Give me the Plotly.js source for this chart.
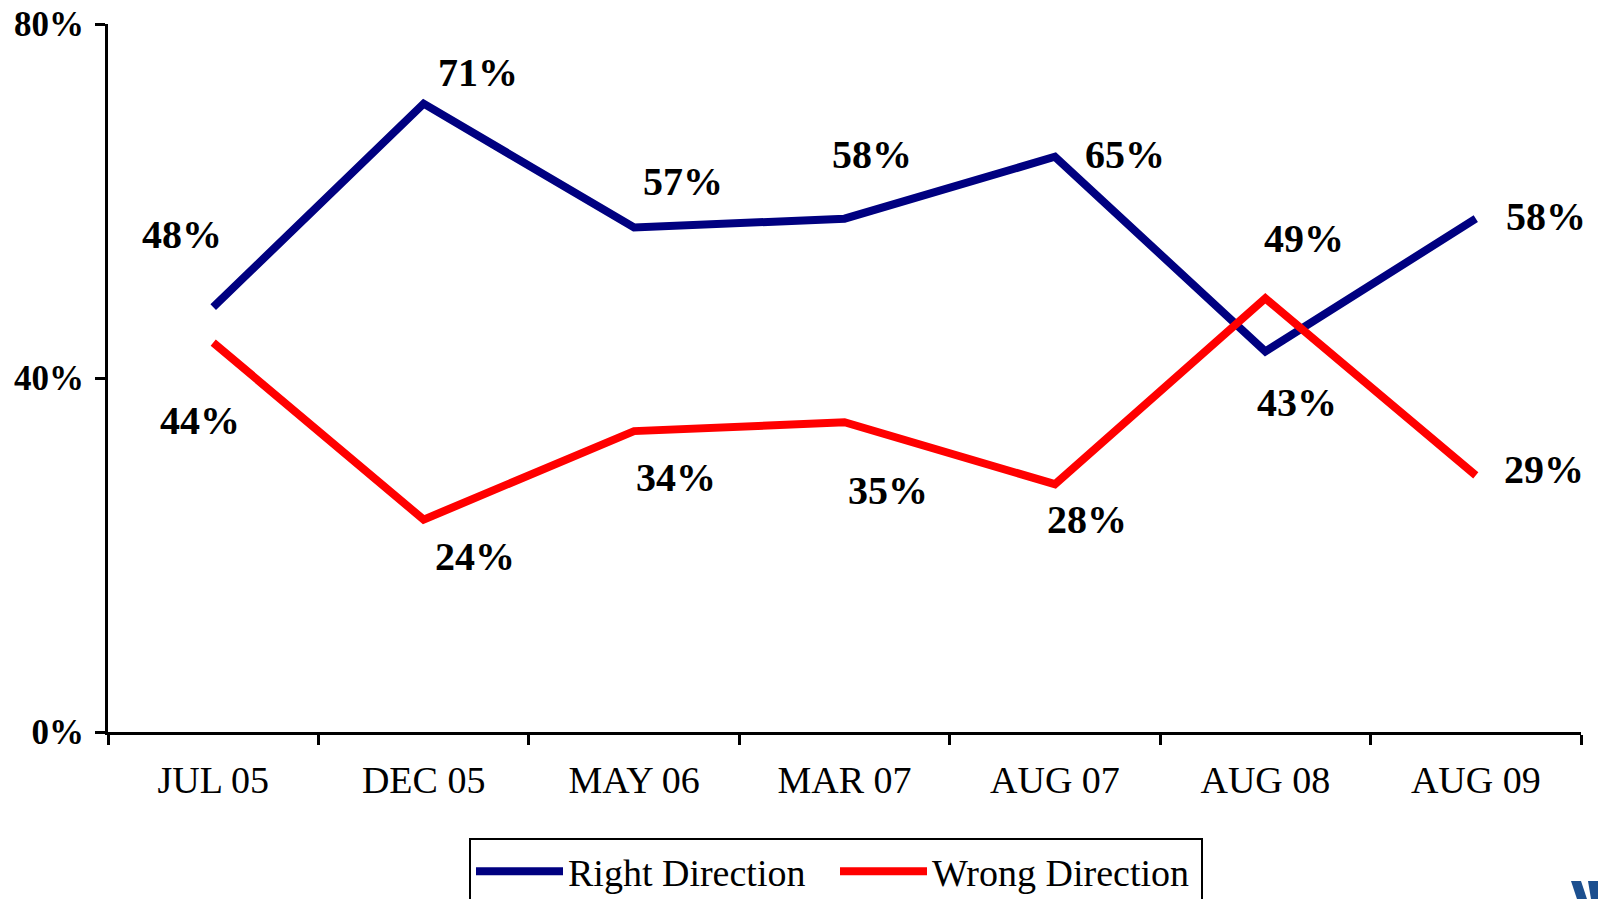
<!DOCTYPE html>
<html>
<head>
<meta charset="utf-8">
<script src="https://cdn.plot.ly/plotly-3.0.1.min.js"></script>
<style>
  html, body { margin: 0; padding: 0; background: #ffffff; }
  #chart { width: 1598px; height: 899px; }
</style>
</head>
<body>
<div id="chart"></div>
<script>
// ---- data ----
const categories = ["JUL 05", "DEC 05", "MAY 06", "MAR 07", "AUG 07", "AUG 08", "AUG 09"];
const rightDirection = [48, 71, 57, 58, 65, 43, 58];
const wrongDirection = [44, 24, 34, 35, 28, 49, 29];
const seriesNames = ["Right Direction", "Wrong Direction"];
const yTickValues = [0, 40, 80];

// ---- label offsets (pixels) ----
const rightLabelShift = [[-31, 73], [54, 31], [49, 46], [27, 64], [70, 2], [32, -51], [70, 2]];
const wrongLabelShift = [[-13, -78], [51, -37], [42, -46], [43, -68], [32, -35], [39, 60], [68, 6]];

const FONT = "'Liberation Serif', 'Times New Roman', Times, serif";
const NAVY = "#000080";
const RED = "#ff0000";

const traces = [
  { x: categories, y: rightDirection, name: seriesNames[0], type: "scatter", mode: "lines",
    line: { color: NAVY, width: 8 }, hoverinfo: "skip" },
  { x: categories, y: wrongDirection, name: seriesNames[1], type: "scatter", mode: "lines",
    line: { color: RED, width: 8 }, hoverinfo: "skip", legendwidth: 264 }
];

const annotations = [];
function addLabels(vals, shifts) {
  vals.forEach((v, i) => {
    annotations.push({
      x: categories[i], y: v, xref: "x", yref: "y", text: v + "%", showarrow: false,
      xshift: shifts[i][0], yshift: shifts[i][1],
      font: { family: FONT, size: 40, color: "#000000", weight: "bold" }
    });
  });
}
addLabels(rightDirection, rightLabelShift);
addLabels(wrongDirection, wrongLabelShift);

// small logo fragment in the bottom right corner (pixel -> paper helper)
const W = 1598, H = 899;
const L = 108, R = 1581, T = 24, B = 732;
const px = p => (p - L) / (R - L);
const py = p => (B - p) / (B - T);
function poly(pts) {
  return pts.map((p, i) => (i ? "L" : "M") + px(p[0]).toFixed(5) + "," + py(p[1]).toFixed(5)).join(" ") + " Z";
}
const shapes = [
  { type: "path", xref: "paper", yref: "paper", path: poly([[1571,881],[1581,881],[1587,899],[1577,899]]),
    fillcolor: "#1c4f8f", line: { width: 0 } },
  { type: "path", xref: "paper", yref: "paper", path: poly([[1588,881],[1598,881],[1598,899],[1591,899]]),
    fillcolor: "#1c4f8f", line: { width: 0 } }
];

const layout = {
  width: W, height: H,
  margin: { l: L, r: W - R, t: T, b: H - B, pad: 0, autoexpand: false },
  paper_bgcolor: "#ffffff", plot_bgcolor: "#ffffff",
  showlegend: true,
  legend: {
    orientation: "h", xref: "container", yref: "container",
    x: 469 / W, y: 1 - 838 / H, xanchor: "left", yanchor: "top",
    bordercolor: "#000000", borderwidth: 2, bgcolor: "#ffffff",
    font: { family: FONT, size: 38, color: "#000000" },
    itemwidth: 87, entrywidth: 262, entrywidthmode: "pixels", tracegroupgap: 0
  },
  xaxis: {
    type: "category", range: [-0.5, 6.5], fixedrange: true, automargin: false,
    showline: true, linecolor: "#000000", linewidth: 3,
    ticks: "outside", tickson: "boundaries", ticklen: 10, tickwidth: 3, tickcolor: "#000000",
    showgrid: false, zeroline: false,
    tickfont: { family: FONT, size: 38, color: "#000000" },
    ticklabelstandoff: 12
  },
  yaxis: {
    range: [0, 80], tickvals: yTickValues, ticktext: yTickValues.map(v => v + "%"), fixedrange: true,
    automargin: false,
    showline: true, linecolor: "#000000", linewidth: 3,
    ticks: "outside", ticklen: 10, tickwidth: 3, tickcolor: "#000000",
    showgrid: false, zeroline: false,
    tickfont: { family: FONT, size: 35, color: "#000000", weight: "bold" },
    ticklabelstandoff: 4
  },
  annotations: annotations,
  shapes: shapes
};

Plotly.newPlot("chart", traces, layout, { displayModeBar: false, staticPlot: true });
</script>
</body>
</html>
